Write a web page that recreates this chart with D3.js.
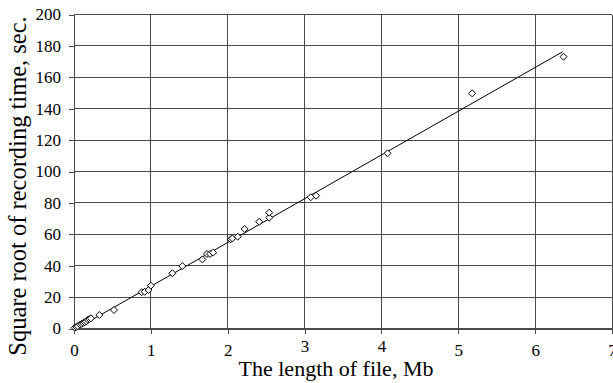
<!DOCTYPE html>
<html>
<head>
<meta charset="utf-8">
<script src="https://cdn.jsdelivr.net/npm/d3@7"></script>
<style>
  body { margin: 0; background: #fff; }
</style>
</head>
<body>
<script>
// widths and heights of the page
var width = 613, height = 383;
var serif = '"Liberation Serif", "Times New Roman", Times, serif';

// measured points: file length (Mb) vs square root of recording time (sec)
var fileLength = [0.01, 0.03, 0.05, 0.08, 0.10, 0.12, 0.14, 0.16, 0.18, 0.20, 0.22,
  0.33, 0.52, 0.88, 0.92, 0.97, 1.00, 1.28, 1.41, 1.67, 1.73, 1.77, 1.81,
  2.04, 2.06, 2.13, 2.22, 2.41, 2.54, 2.54, 3.08, 3.15, 4.08, 5.18, 6.37];
var sqrtTime = [0.5, 1.0, 1.5, 2.5, 3.0, 3.5, 4.0, 4.5, 5.5, 6.0, 6.5,
  8.6, 11.8, 23.1, 23.4, 24.5, 27.3, 35.2, 39.8, 44.0, 47.5, 47.5, 48.3,
  56.8, 57.4, 58.5, 63.4, 68.0, 70.6, 73.8, 83.6, 84.6, 111.6, 149.8, 173.1];

// ends of the fitted line
var trendX = [0.02, 6.36];
var trendY = [-0.4, 176.3];

var xTicks = [0, 1, 2, 3, 4, 5, 6, 7];
var yTicks = [0, 20, 40, 60, 80, 100, 120, 140, 160, 180, 200];

var plotL = 74, plotR = 612, plotT = 14.5, plotB = 328.5;

var svg = d3.select('body').append('svg').attr('width', width).attr('height', height);

var x = d3.scaleLinear().domain([0, 7]).range([plotL, plotR]);
var y = d3.scaleLinear().domain([0, 200]).range([plotB, plotT]);

// grid
var grid = svg.append('g').attr('stroke', '#4a4a4a').attr('stroke-width', 1).attr('shape-rendering', 'crispEdges');
grid.selectAll('.h').data(yTicks).enter().append('line')
  .attr('x1', plotL).attr('x2', plotR)
  .attr('y1', d => y(d)).attr('y2', d => y(d));
grid.selectAll('.v').data(xTicks).enter().append('line')
  .attr('x1', d => x(d)).attr('x2', d => x(d))
  .attr('y1', plotT).attr('y2', plotB);

// axes
var yAxis = svg.append('g').attr('transform', 'translate(' + plotL + ',0)')
  .call(d3.axisLeft(y).tickValues(yTicks).tickFormat(d3.format('d')).tickSize(5).tickPadding(8));
var xAxis = svg.append('g').attr('transform', 'translate(0,' + plotB + ')')
  .call(d3.axisBottom(x).tickValues(xTicks).tickFormat(d3.format('d')).tickSize(5).tickPadding(10));
[xAxis, yAxis].forEach(a => {
  a.attr('font-family', null).attr('font-size', null);
  a.select('.domain').attr('stroke', '#4a4a4a').attr('shape-rendering', 'crispEdges');
  a.selectAll('.tick line').attr('stroke', '#4a4a4a').attr('shape-rendering', 'crispEdges');
  a.selectAll('text').style('font-size', '17px').style('font-family', serif).attr('fill', '#000');
});
// labels 3 and 4 sit a little higher where the title crowds them
xAxis.selectAll('.tick text').attr('y', d => (d === 3 || d === 4) ? 11 : 15);

// fitted line
svg.append('line')
  .attr('x1', x(trendX[0])).attr('y1', y(trendY[0]))
  .attr('x2', x(trendX[1])).attr('y2', y(trendY[1]))
  .attr('stroke', '#000').attr('stroke-width', 1);

// diamond markers
var r = 3.5;
svg.append('g').selectAll('path').data(fileLength).enter().append('path')
  .attr('d', (d, i) => {
    var cx = x(d), cy = y(sqrtTime[i]);
    return 'M' + cx + ',' + (cy - r) + 'L' + (cx + r) + ',' + cy + 'L' + cx + ',' + (cy + r) + 'L' + (cx - r) + ',' + cy + 'Z';
  })
  .attr('fill', '#fff').attr('stroke', '#000').attr('stroke-width', 1);

// axis titles
svg.append('text')
  .attr('x', 336).attr('y', 376)
  .attr('text-anchor', 'middle')
  .style('font-size', '22px').style('font-family', serif)
  .text('The length of file, Mb');

svg.append('text')
  .attr('transform', 'translate(26,186) rotate(-90)')
  .attr('text-anchor', 'middle')
  .style('font-size', '24.5px').style('font-family', serif)
  .text('Square root of recording time, sec.');
</script>
</body>
</html>
